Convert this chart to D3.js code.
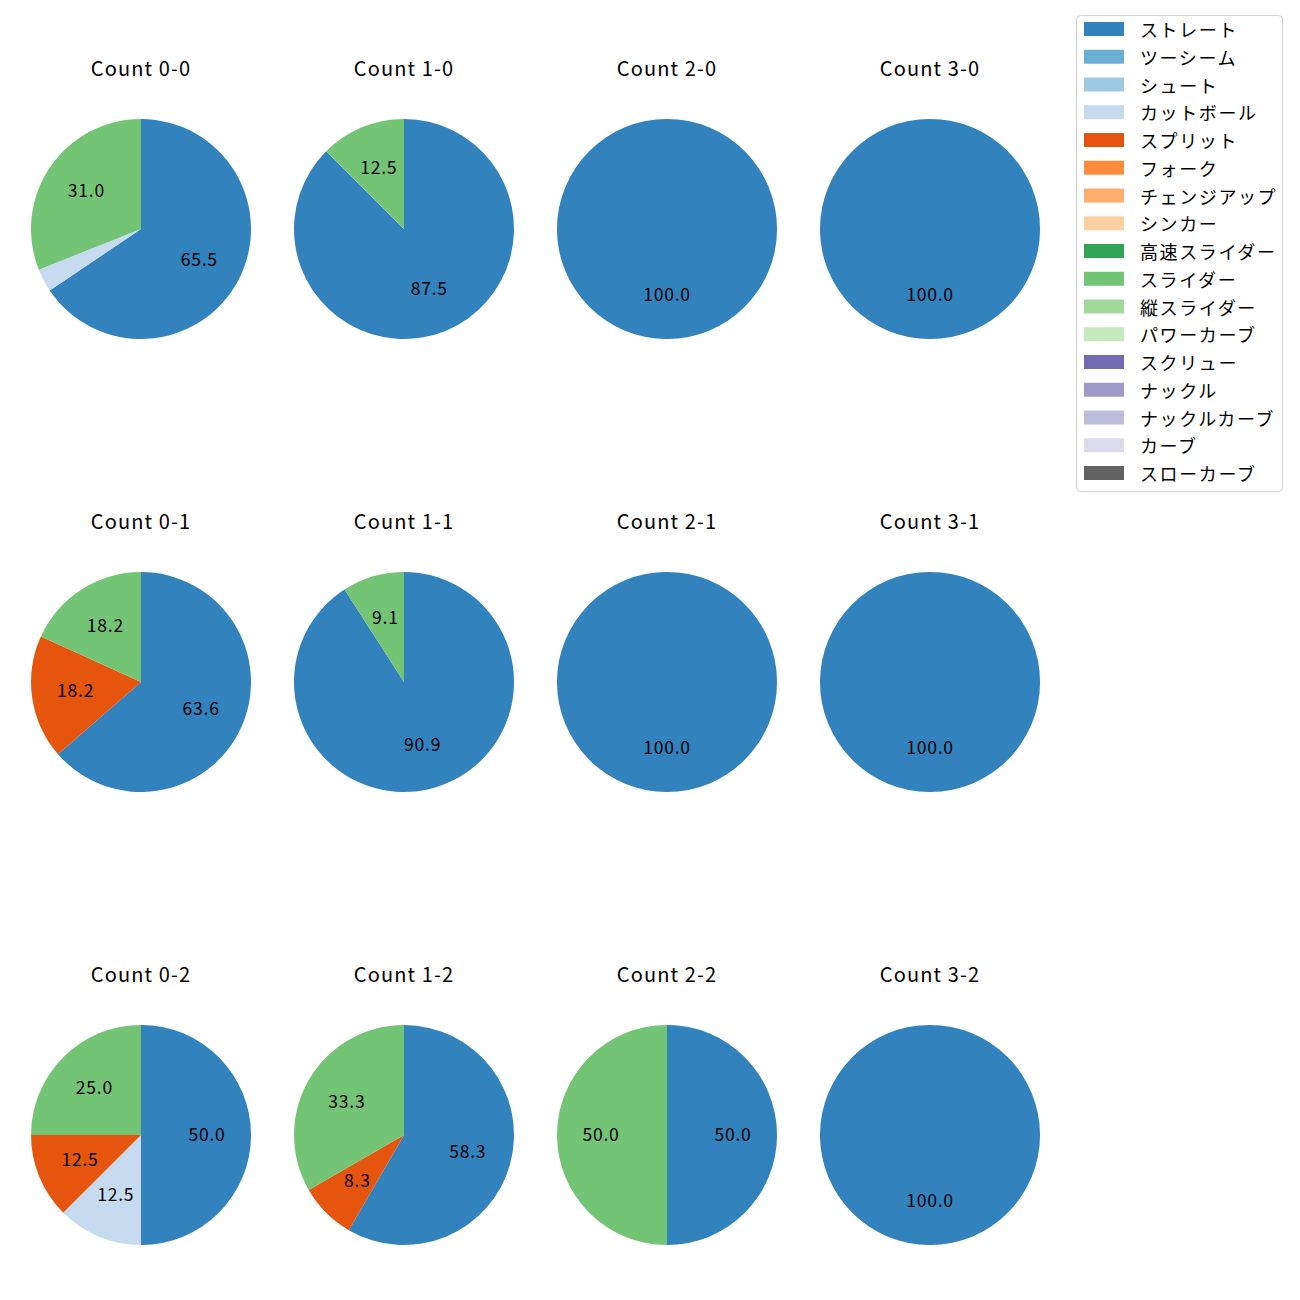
<!DOCTYPE html>
<html><head><meta charset="utf-8">
<script src="https://cdn.jsdelivr.net/npm/d3@7"></script>
<style>body{margin:0;background:#fff}svg{display:block}text{font-family:"Noto Sans CJK JP","Noto Sans",sans-serif}</style>
</head><body>
<script>
const pitchTypes = ["ストレート","ツーシーム","シュート","カットボール","スプリット","フォーク","チェンジアップ","シンカー","高速スライダー","スライダー","縦スライダー","パワーカーブ","スクリュー","ナックル","ナックルカーブ","カーブ","スローカーブ"];
const colors = ["#3182bd","#6baed6","#9ecae1","#c6dbef","#e6550d","#fd8d3c","#fdae6b","#fdd0a2","#31a354","#74c476","#a1d99b","#c7e9c0","#756bb1","#9e9ac8","#bcbddc","#dadaeb","#636363"];
const countTitles = ["Count 0-0","Count 1-0","Count 2-0","Count 3-0","Count 0-1","Count 1-1","Count 2-1","Count 3-1","Count 0-2","Count 1-2","Count 2-2","Count 3-2"];
// percent per panel for each pitch type present
const straight = [65.5,87.5,100,100,63.6,90.9,100,100,50.0,58.3,50.0,100];
const cutball  = [3.4,0,0,0,0,0,0,0,12.5,0,0,0];
const split    = [0,0,0,0,18.2,0,0,0,12.5,8.3,0,0];
const slider   = [31.0,12.5,0,0,18.2,9.1,0,0,25.0,33.3,50.0,0];

const W=1300,H=1300;
const svg=d3.select("body").append("svg").attr("width",W).attr("height",H);
svg.append("rect").attr("width",W).attr("height",H).attr("fill","#fff");

const colX=d3.scalePoint().domain([0,1,2,3]).range([141,930]);
const rowY=d3.scalePoint().domain([0,1,2]).range([229,1135]);
const R=110;
const color=d3.scaleOrdinal().domain(pitchTypes).range(colors);
const pie=d3.pie().sort(null).value(d=>d.v);
const arc=d3.arc().innerRadius(0).outerRadius(R);

countTitles.forEach((t,i)=>{
  const cx=colX(i%4), cy=rowY(Math.floor(i/4));
  const data=[
    {k:"ストレート",v:straight[i]},
    {k:"カットボール",v:cutball[i]},
    {k:"スプリット",v:split[i]},
    {k:"スライダー",v:slider[i]}
  ].filter(d=>d.v>0);
  const g=svg.append("g").attr("transform",`translate(${cx},${cy})`);
  const arcs=pie(data);
  g.selectAll("path").data(arcs).enter().append("path")
    .attr("d",arc).attr("fill",d=>color(d.data.k));
  g.selectAll("text.lbl").data(arcs.filter(d=>d.data.v>=5)).enter().append("text")
    .attr("class","lbl")
    .attr("transform",d=>{
      const a=(d.startAngle+d.endAngle)/2;
      return `translate(${Math.sin(a)*R*0.6},${-Math.cos(a)*R*0.6-2})`;
    })
    .attr("text-anchor","middle").attr("dominant-baseline","central")
    .attr("font-size",17.5).attr("letter-spacing",0.8).attr("fill","#000").text(d=>d.data.v.toFixed(1));
  svg.append("text").attr("x",cx).attr("y",cy-162).attr("text-anchor","middle")
    .attr("dominant-baseline","central").attr("font-size",20).attr("letter-spacing",1.1).attr("fill","#000").text(t);
});

// legend
const lg=svg.append("g");
lg.append("rect").attr("x",1076.5).attr("y",15.5).attr("width",206).attr("height",476)
  .attr("rx",4).attr("fill","#fff").attr("stroke","#d0d0d0");
const ly=d3.scaleLinear().domain([0,16]).range([29,473]);
pitchTypes.forEach((p,i)=>{
  lg.append("rect").attr("x",1084).attr("y",ly(i)-7).attr("width",40).attr("height",14).attr("fill",color(p));
  lg.append("text").attr("x",1140).attr("y",ly(i)).attr("dominant-baseline","central")
    .attr("font-size",18).attr("letter-spacing",1.6).attr("fill","#000").text(p);
});
</script>
</body></html>
